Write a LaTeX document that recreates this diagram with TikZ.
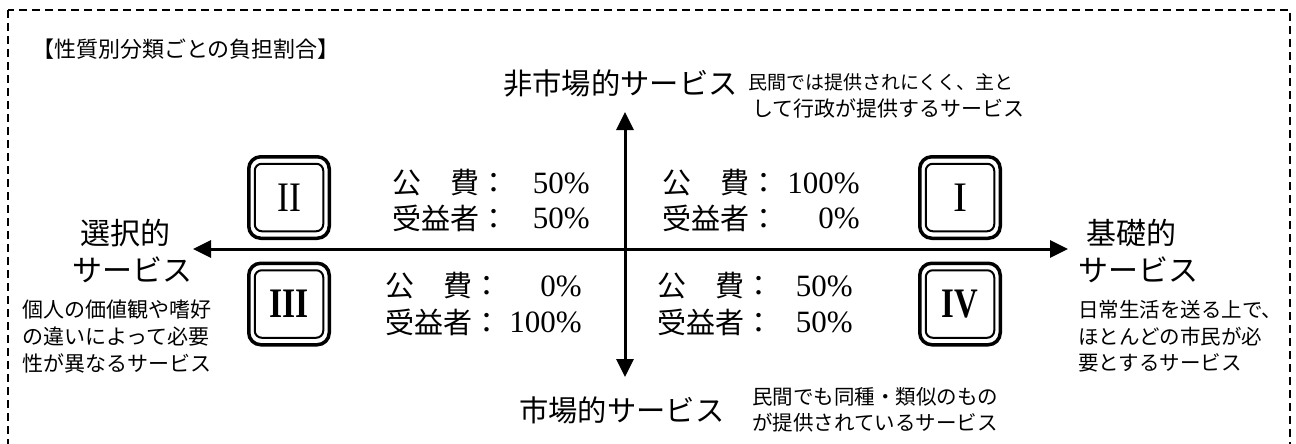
\documentclass[tikz,border=0pt]{standalone}
\usepackage{fontspec}
\newfontfamily\jp{Noto Sans CJK JP}
\newfontfamily\ser{Liberation Serif}
\usetikzlibrary{arrows.meta}
\begin{document}
\begin{tikzpicture}[x=1pt,y=-1pt,
  jp/.style={inner sep=0pt, font=\jp\fontsize{#1}{#1}\selectfont},
  num/.style={inner sep=0pt, font=\ser\fontsize{#1}{#1}\selectfont},
  outerbox/.style={draw, line width=3.5pt, rounded corners=12pt, minimum width=80.5pt, minimum height=81.5pt, inner sep=0pt},
  innerbox/.style={draw, line width=2pt, rounded corners=7pt, minimum width=68.5pt, minimum height=67.5pt, inner sep=0pt, font=\ser\fontsize{42}{42}\selectfont},
  axis/.style={line width=3pt, {Triangle[length=18pt,width=17pt]}-{Triangle[length=18pt,width=17pt]}},
  frame/.style={line width=1.5pt, dash pattern=on 8pt off 5pt}
]
\useasboundingbox (0,0) rectangle (1296,444);
\draw[frame] (8,10) rectangle (1290,460);

% title
\node[jp=22, anchor=west] (title) at (32,49) {【性質別分類ごとの負担割合】};

% axes
\coordinate (L) at (193,249);
\coordinate (R) at (1068,249);
\coordinate (T) at (625,112);
\coordinate (B) at (625,377);
\draw[axis] (L) -- (R);
\draw[axis] (B) -- (T);

% quadrant boxes
\node[outerbox] (b2o) at (289,197.5) {};
\node[innerbox] (b2i) at (289,197.5) {\raisebox{-2pt}{\scalebox{0.85}[1]{II}}};
\node[outerbox] (b3o) at (289,304) {};
\node[innerbox] (b3i) at (289,304) {\raisebox{-2pt}{\scalebox{0.8}[1]{\bfseries III}}};
\node[outerbox] (b1o) at (960,197.5) {};
\node[innerbox] (b1i) at (960,197.5) {\raisebox{-2pt}{I}};
\node[outerbox] (b4o) at (960,304) {};
\node[innerbox] (b4i) at (960,304) {\raisebox{-2pt}{\scalebox{0.78}[1]{\bfseries IV}}};

% quadrant texts
\node[jp=29, anchor=west] (tl1) at (392,183) {公　費：};
\node[num=31, anchor=east] (tl1v) at (590,183) {50\%};
\node[jp=29, anchor=west] (tl2) at (392,218) {受益者：};
\node[num=31, anchor=east] (tl2v) at (590,218) {50\%};

\node[jp=29, anchor=west] (tr1) at (662,183) {公　費：};
\node[num=31, anchor=east] (tr1v) at (860,183) {100\%};
\node[jp=29, anchor=west] (tr2) at (662,218) {受益者：};
\node[num=31, anchor=east] (tr2v) at (860,218) {0\%};

\node[jp=29, anchor=west] (bl1) at (385,286) {公　費：};
\node[num=31, anchor=east] (bl1v) at (582,286) {0\%};
\node[jp=29, anchor=west] (bl2) at (385,322) {受益者：};
\node[num=31, anchor=east] (bl2v) at (582,322) {100\%};

\node[jp=29, anchor=west] (br1) at (657,286) {公　費：};
\node[num=31, anchor=east] (br1v) at (853,286) {50\%};
\node[jp=29, anchor=west] (br2) at (657,322) {受益者：};
\node[num=31, anchor=east] (br2v) at (853,322) {50\%};

% top label
\node[jp=29.3, anchor=west] (ntop) at (503,83) {非市場的サービス};
\node[jp=19, anchor=west] (ntopd1) at (748,82) {民間では提供されにくく、主と};
\node[jp=21, anchor=west] (ntopd2) at (752,108) {して行政が提供するサービス};

% bottom label
\node[jp=29.3, anchor=west] (nbot) at (519,410) {市場的サービス};
\node[jp=20.5, anchor=west] (nbotd1) at (752,397) {民間でも同種・類似のもの};
\node[jp=20.5, anchor=west] (nbotd2) at (752,423) {が提供されているサービス};

% left label
\node[jp=30, anchor=west] (lt1) at (80,233) {選択的};
\node[jp=30, anchor=west] (lt2) at (72,270) {サービス};
\node[jp=21, anchor=west] (ld1) at (22,310) {個人の価値観や嗜好};
\node[jp=21, anchor=west] (ld2) at (22,337) {の違いによって必要};
\node[jp=21, anchor=west] (ld3) at (22,363) {性が異なるサービス};

% right label
\node[jp=30, anchor=west] (rt1) at (1086,233) {基礎的};
\node[jp=30, anchor=west] (rt2) at (1078,270) {サービス};
\node[jp=20.5, anchor=west] (rd1) at (1078,310) {日常生活を送る上で、};
\node[jp=20.5, anchor=west] (rd2) at (1078,337) {ほとんどの市民が必};
\node[jp=20.5, anchor=west] (rd3) at (1078,363) {要とするサービス};
\end{tikzpicture}
\end{document}
